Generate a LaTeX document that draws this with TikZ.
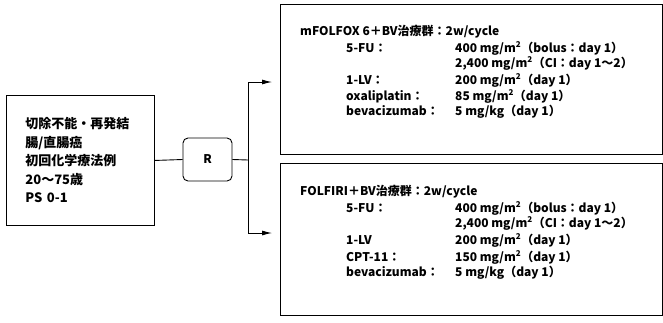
\documentclass[tikz,border=0pt]{standalone}
\usepackage{fontspec}
\setmainfont{Noto Sans CJK JP}
\usetikzlibrary{arrows.meta}

\begin{document}
\begin{tikzpicture}[
    x=1pt, y=-1pt,
    box/.style={
       draw, line width=0.9pt, inner sep=0pt,
       anchor=north west
        },
    armtext/.style={anchor=base west, inner sep=0pt,
       font=\fontsize{12}{14}\selectfont\bfseries},
    arrow/.style={-{Latex[length=10pt,width=5pt]}, line width=0.9pt}
  ]
\useasboundingbox (0,0) rectangle (663,322);

% patients and randomisation
\node [box, minimum width=147, minimum height=130, text width=110,
       inner xsep=19pt, align=left,
       font=\fontsize{13}{18.5}\selectfont\bfseries] (patients) at (6,95)
   {切除不能・再発結\\腸/直腸癌\\初回化学療法例\\20～75歳\\PS 0-1};
\node [draw, line width=0.9pt, rounded corners=5pt, minimum width=49,
       minimum height=43, font=\fontsize{12}{14}\selectfont\bfseries] (rand) at (207.5,159.5) {R};

% two arms
\node [box, minimum width=382, minimum height=150] (armA) at (280,4) {};
\node [box, minimum width=382, minimum height=152] (armB) at (280,163) {};

\coordinate (split) at (248,160);
\coordinate (toA) at (272,82);
\coordinate (toB) at (272,233);
\draw [line width=0.9pt] (patients.east) -- (rand.west);
\draw [line width=0.9pt] (rand.east) -- (split);
\draw [arrow] (split) |- (toA);
\draw [arrow] (split) |- (toB);

% arm A regimen
\node [armtext] (titleA) at (300,35) {mFOLFOX 6＋BV治療群：2w/cycle};
\foreach [count=\j] \lab/\val/\y in {
     {5-FU：}/{400 mg/m\textsuperscript{2}（bolus：day 1）}/52,
     {}/{2,400 mg/m\textsuperscript{2}（CI：day 1～2）}/67,
     {1-LV：}/{200 mg/m\textsuperscript{2}（day 1）}/84,
     {oxaliplatin：}/{85 mg/m\textsuperscript{2}（day 1）}/100,
     {bevacizumab：}/{5 mg/kg（day 1）}/115} {
   \node [armtext] (labA-\j) at (346,\y) {\lab};
   \node [armtext] (valA-\j) at (455,\y) {\val};
  }

% arm B regimen
\node [armtext] (titleB) at (300,195) {FOLFIRI＋BV治療群：2w/cycle};
\foreach [count=\j] \lab/\val/\y in {
     {5-FU：}/{400 mg/m\textsuperscript{2}（bolus：day 1）}/212,
     {}/{2,400 mg/m\textsuperscript{2}（CI：day 1～2）}/227,
     {1-LV}/{200 mg/m\textsuperscript{2}（day 1）}/244,
     {CPT-11：}/{150 mg/m\textsuperscript{2}（day 1）}/261,
     {bevacizumab：}/{5 mg/kg（day 1）}/276} {
   \node [armtext] (labB-\j) at (346,\y) {\lab};
   \node [armtext] (valB-\j) at (455,\y) {\val};
  }
\end{tikzpicture}
\end{document}
